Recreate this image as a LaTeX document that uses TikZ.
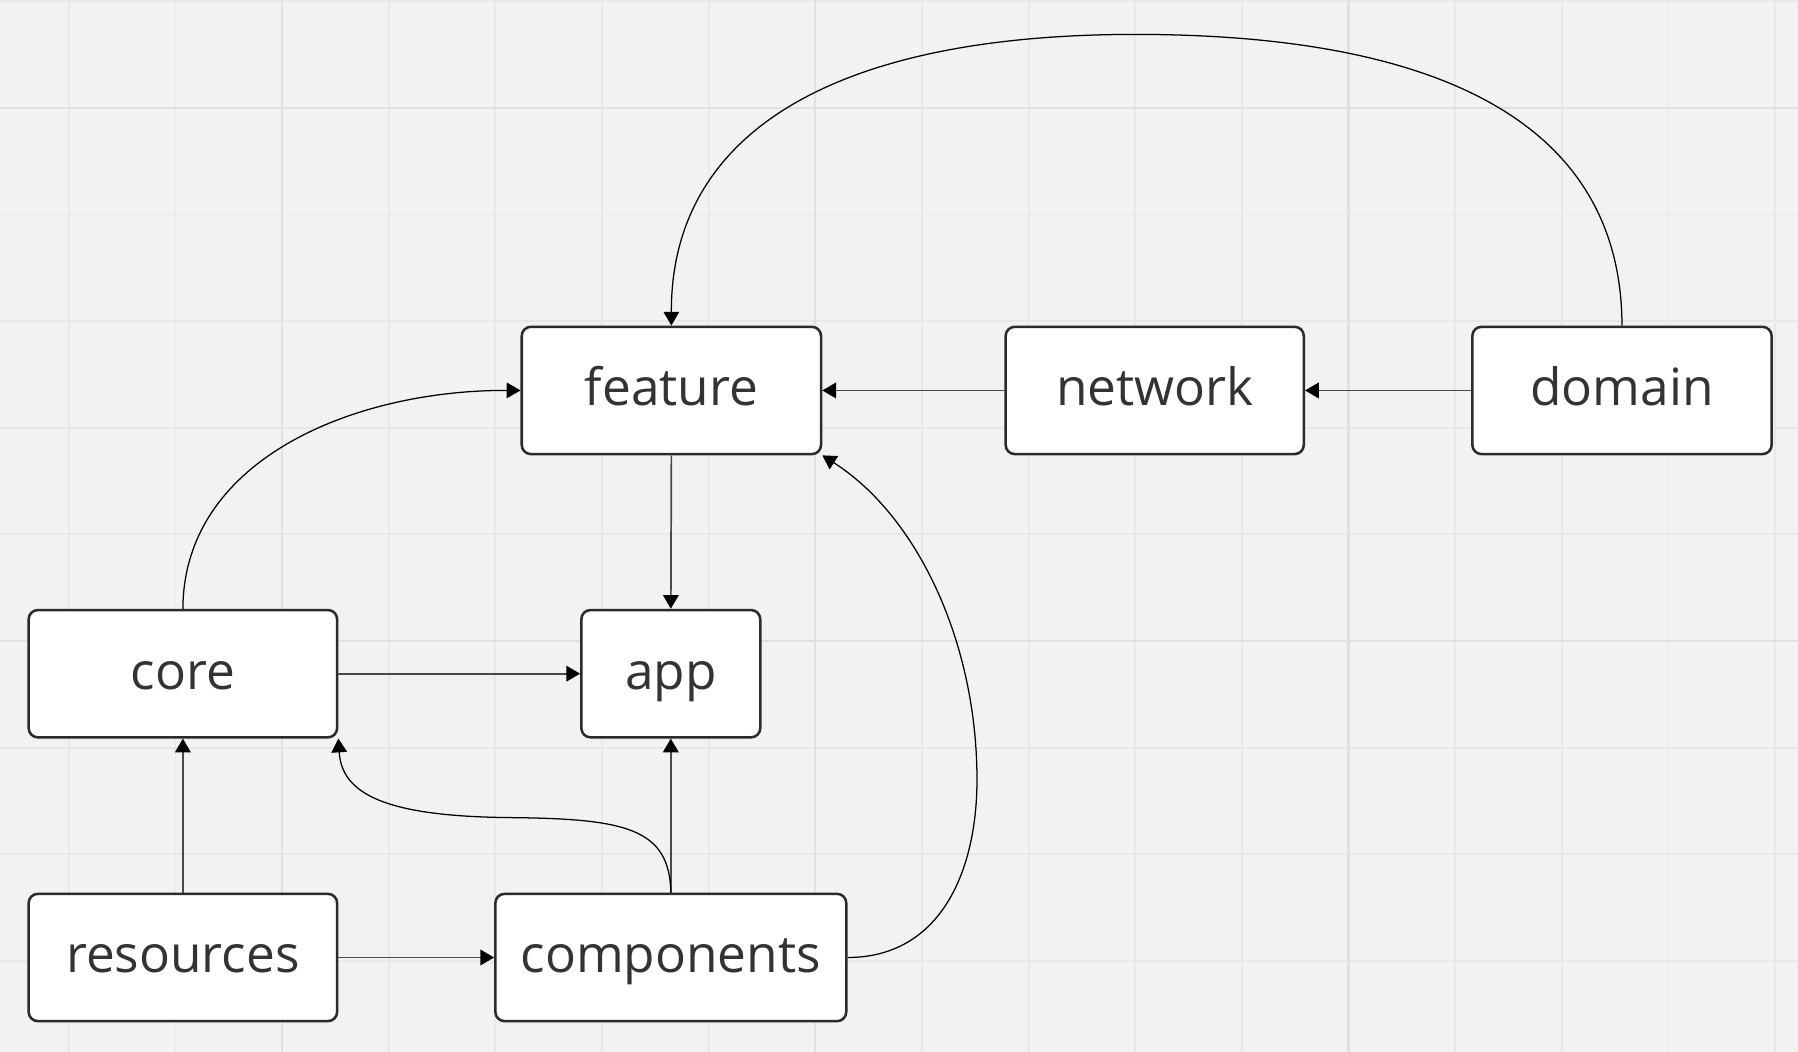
\documentclass[tikz,border=0pt]{standalone}
\usepackage{fontspec}
\setmainfont{Open Sans}
\usetikzlibrary{arrows.meta}
\definecolor{bg}{HTML}{F2F2F2}
\definecolor{gridminor}{HTML}{E8E8E8}
\definecolor{gridmajor}{HTML}{E0E0E0}
\definecolor{boxline}{HTML}{2B2B2B}
\definecolor{txt}{HTML}{333333}
\definecolor{conn}{HTML}{4A4A4A}
\tikzset{
  mod/.style={draw=boxline, line width=1.1pt, fill=white, rounded corners=4pt,
    minimum height=55.5pt, inner sep=0pt, text=txt, text height=16pt, text depth=2.5pt,
    font=\fontsize{22.4}{26}\selectfont},
  straight/.style={draw=conn, line width=0.75pt, -{Triangle[length=6pt,width=6.8pt,color=black]}},
  curvy/.style={draw=black, line width=0.55pt, -{Triangle[length=6pt,width=6.8pt]}},
}
\begin{document}
\begin{tikzpicture}[x=0.5pt,y=-0.5pt]
\useasboundingbox (0,0) rectangle (1568,917);
\fill[bg] (0,0) rectangle (1568,917);
\foreach \k in {0,...,16} {
  \draw[gridminor, line width=0.8pt] ({60+93*\k},0) -- ({60+93*\k},917);
}
\foreach \k in {0,...,9} {
  \draw[gridminor, line width=0.8pt] (0,{1+93*\k}) -- (1568,{1+93*\k});
}
\foreach \x in {246,711,1176} \draw[gridmajor, line width=0.9pt] (\x,0) -- (\x,917);
\foreach \y in {94,559} \draw[gridmajor, line width=0.9pt] (0,\y) -- (1568,\y);

\node[mod, minimum width=130.5pt] (feature) at (585.5,340.5) {feature};
\node[mod, minimum width=130pt] (network) at (1007,340.5) {network};
\node[mod, minimum width=130.5pt] (domain) at (1414.5,340.5) {domain};
\node[mod, minimum width=134.5pt] (core) at (159.5,587.5) {core};
\node[mod, minimum width=78pt] (app) at (585,587.5) {app};
\node[mod, minimum width=134.5pt] (resources) at (159.5,835) {resources};
\node[mod, minimum width=153pt] (components) at (585,835) {components};

\draw[straight] (network.west) -- (feature.east);
\draw[straight] (domain.west) -- (network.east);
\draw[straight] (feature.south) -- (app.north);
\draw[straight] (core.east) -- (app.west);
\draw[straight] (resources.north) -- (core.north |- core.south);
\draw[straight] (resources.east) -- (components.west);
\draw[straight] (components.north) -- (app.south);

\draw[curvy] (domain.north) .. controls (1414,110) and (1260,30) .. (990,30)
  .. controls (720,30) and (585,120) .. (feature.north);
\draw[curvy] (core.north) .. controls (160,400) and (310,340) .. (feature.west);
\draw[curvy] (components.north) .. controls (584,722) and (545,714) .. (445,713)
  .. controls (335,712) and (298,692) .. (core.south east);
\draw[curvy] (components.east) .. controls (820,835) and (852,760) .. (852,680)
  .. controls (852,560) and (800,450) .. (feature.south east);
\end{tikzpicture}
\end{document}
